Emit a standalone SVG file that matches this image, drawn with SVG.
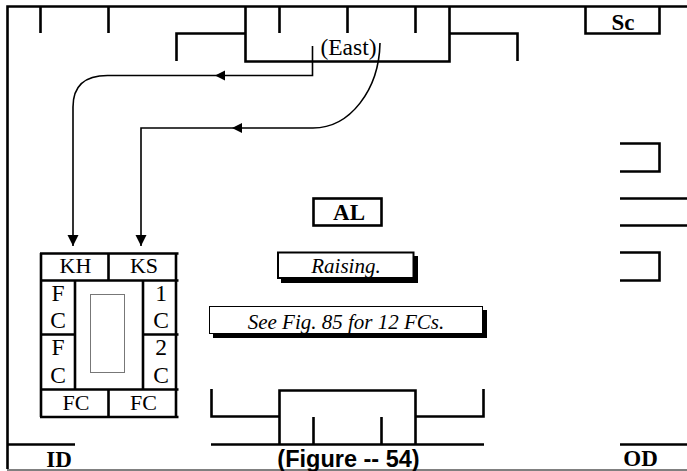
<svg xmlns="http://www.w3.org/2000/svg" width="687" height="471" viewBox="0 0 687 471">
<style>
.w{fill:none;stroke:#000;stroke-width:2.6}
.c{fill:none;stroke:#000;stroke-width:1.6}
.t{font-family:"Liberation Serif",serif;font-size:22px;fill:#000;text-anchor:middle}
.g{font-size:23.500px}
.b{font-weight:bold;font-size:23px}
.i{font-style:italic;font-size:21px}
</style>
<defs>
<marker id="a" markerUnits="userSpaceOnUse" markerWidth="12" markerHeight="12" refX="11" refY="5.500" orient="auto"><path d="M0 0L11 5.500L0 11Z" fill="#000"/></marker>
</defs>
<rect width="687" height="471" fill="#fff"/>
<g id="frame">
<path class="w" d="M7.500 469V6.500H687"/>
<path d="M7 470H687" fill="none" stroke="#000" stroke-width="1"/>
</g>
<g id="top-wall">
<path class="w" d="M40.500 6V33M108.500 6V33M279.500 6V33M347.500 6V33M415.500 6V33"/>
<path class="w" d="M245.500 6V61.500H449.500V6"/>
<path class="w" d="M176.500 61V33.500H245.500M449.500 33.500H517.500V61"/>
</g>
<g id="Sc"><path class="w" d="M585.500 6V33.500H659.500V6"/><text class="t b" x="623" y="30">Sc</text></g>
<g id="East"><text class="t g" x="348.500" y="55">(East)</text></g>
<g id="connectors">
<path class="c" d="M312.500 46V75.500H107.500Q73 75.500 73 107V246" marker-end="url(#a)"/>
<path class="c" d="M380 43C379 90 350 128 313 128H141V246" marker-end="url(#a)"/>
<path d="M215 75.500L225 70.500V80.500Z M232 128L242 123V133Z" fill="#000"/>
</g>
<g id="right-wall">
<path class="w" d="M620 143.500H659.500V171.500H620M620 198.500H687M620 225.500H687M620 252.500H659.500V280.500H620"/>
</g>
<g id="grid">
<path class="w" d="M40 253.500H178.500M40 280.500H178.500M40 334.500H75M143 334.500H178.500M40 389.500H178.500M40 417H178.500"/>
<path class="w" d="M41 253V417M108.500 253V280M108.500 389V418M75 280V389M143 280V389M176 253V417"/>
<rect x="90.500" y="294.500" width="34" height="78" fill="none" stroke="#777" stroke-width="1"/>
</g>
<g id="KH"><text class="t" x="75.500" y="273">KH</text></g>
<g id="KS"><text class="t" x="144" y="273">KS</text></g>
<g id="FC1"><text class="t g" x="58" y="301">F</text><text class="t g" x="58" y="328">C</text></g>
<g id="FC2"><text class="t g" x="58" y="355">F</text><text class="t g" x="58" y="383">C</text></g>
<g id="C1"><text class="t g" x="161" y="301">1</text><text class="t g" x="161" y="328">C</text></g>
<g id="C2"><text class="t g" x="161" y="355">2</text><text class="t g" x="161" y="383">C</text></g>
<g id="FC3"><text class="t" x="76" y="410">FC</text></g>
<g id="FC4"><text class="t" x="143.500" y="410">FC</text></g>
<g id="AL"><rect class="w" x="313.500" y="198.500" width="68" height="27"/><text class="t b" x="349" y="220">AL</text></g>
<g id="Raising">
<rect x="281" y="256" width="137" height="27" fill="#000"/>
<rect x="278" y="252.500" width="135.500" height="25.500" fill="#fff" stroke="#000" stroke-width="2"/>
<text class="t i" x="346" y="273">Raising.</text>
</g>
<g id="See">
<rect x="213" y="310" width="274" height="28" fill="#000"/>
<rect x="209.500" y="306.500" width="273" height="27" fill="#fff" stroke="#000" stroke-width="1"/>
<text class="t i" x="346" y="329">See Fig. 85 for 12 FCs.</text>
</g>
<g id="bottom-wall">
<path class="w" d="M211 444.500H484M211.500 389V416.500H279.500M279.500 444V390.500H415.500V444M415.500 416.500H483.500V389M313.500 417V444M381.500 417V444"/>
</g>
<g id="ID"><path class="w" d="M7 444.500H75"/><text class="t b" x="59" y="467">ID</text></g>
<g id="Figure"><text x="348.500" y="467" text-anchor="middle" font-family="'Liberation Sans',sans-serif" font-size="23.500" font-weight="bold">(Figure -- 54)</text></g>
<g id="OD"><path class="w" d="M620 444.500H687"/><text class="t b" x="640.500" y="466">OD</text></g>
</svg>
